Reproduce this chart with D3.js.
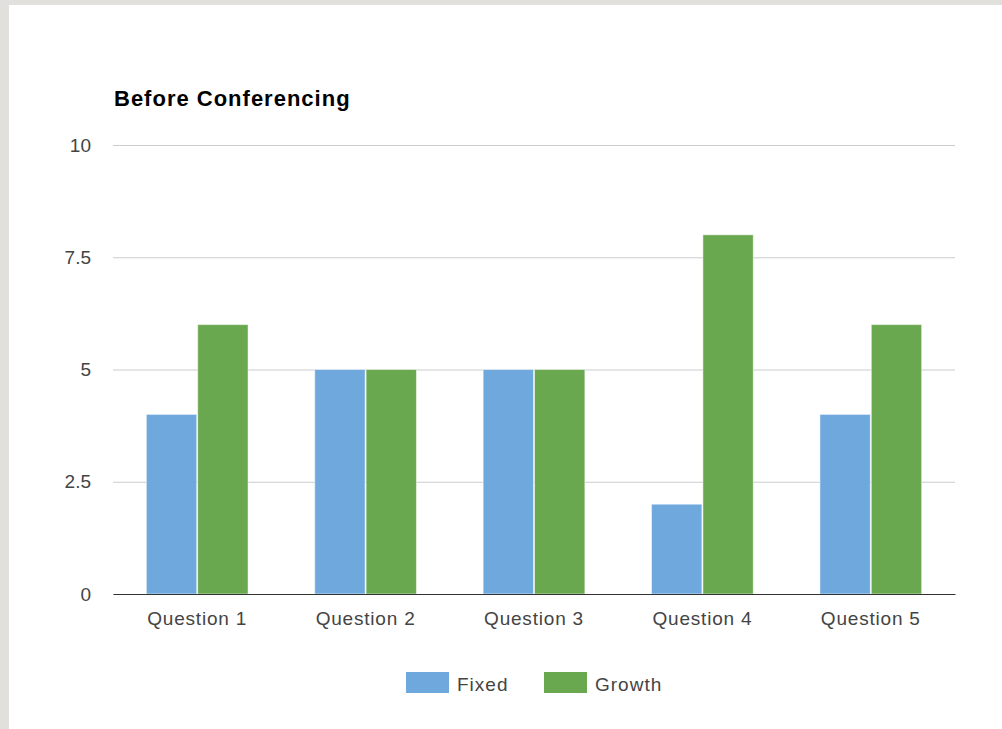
<!DOCTYPE html>
<html>
<head>
<meta charset="utf-8">
<script src="https://cdn.jsdelivr.net/npm/d3@7"></script>
<style>
  html, body { margin: 0; padding: 0; background: #e1e0dc; }
  svg { display: block; }
</style>
</head>
<body>
<script>
// Survey responses before conferencing
const categories = ["Question 1", "Question 2", "Question 3", "Question 4", "Question 5"];
const seriesNames = ["Fixed", "Growth"];
const fixedValues = [4, 5, 5, 2, 4];
const growthValues = [6, 5, 5, 8, 6];
const yTicks = [0, 2.5, 5, 7.5, 10];
const yTickLabels = ["0", "2.5", "5", "7.5", "10"];
const colors = ["#6fa8dc", "#6aa84f"];

const W = 1002, H = 729;
const svg = d3.select("body").append("svg").attr("width", W).attr("height", H);

// white card over the grey page
svg.append("rect").attr("x", 9).attr("y", 5).attr("width", W - 9).attr("height", H - 5).attr("fill", "#ffffff");

const plotLeft = 113, plotRight = 955, plotTop = 145, plotBottom = 594;

const x0 = d3.scaleBand().domain(categories).range([plotLeft, plotRight]).paddingInner(0.39).paddingOuter(0.195);
const x1 = d3.scaleBand().domain(seriesNames).range([0, x0.bandwidth()]);
const y = d3.scaleLinear().domain([0, 10]).range([plotBottom, plotTop]);

const font = "'Liberation Sans', Arial, sans-serif";

// title
svg.append("text").attr("x", 114).attr("y", 106)
  .attr("font-family", font).attr("font-weight", "bold").attr("font-size", 22)
  .attr("letter-spacing", 1)
  .attr("fill", "#000").text("Before Conferencing");

// horizontal gridlines
const yAxis = d3.axisLeft(y).tickValues(yTicks).tickFormat((d, i) => yTickLabels[i])
  .tickSize(-(plotRight - plotLeft)).tickPadding(22);
const gy = svg.append("g").attr("transform", `translate(${plotLeft},0)`).call(yAxis);
gy.select(".domain").remove();
gy.selectAll(".tick line").attr("stroke", "#cccccc").attr("stroke-width", 1);
gy.selectAll(".tick text").attr("font-family", font).attr("font-size", 19).attr("fill", "#444");

// bars
const data = categories.map((c, i) => ({ cat: c, vals: [fixedValues[i], growthValues[i]] }));
const groups = svg.append("g").selectAll("g").data(data).join("g")
  .attr("transform", d => `translate(${x0(d.cat)},0)`);
groups.selectAll("rect").data(d => d.vals.map((v, j) => ({ v, s: seriesNames[j], j })))
  .join("rect")
  .attr("x", d => x1(d.s) + 0.5)
  .attr("width", x1.bandwidth() - 1)
  .attr("y", d => y(d.v))
  .attr("height", d => y(0) - y(d.v))
  .attr("fill", d => colors[d.j])
  .attr("stroke", "#ffffff").attr("stroke-opacity", 0.5).attr("stroke-width", 1);

// x axis baseline and labels
const xAxis = d3.axisBottom(x0).tickSize(0).tickPadding(18);
const gx = svg.append("g").attr("transform", `translate(0,${plotBottom})`).call(xAxis);
gx.select(".domain").attr("stroke", "#333").attr("stroke-width", 1.2);
gx.selectAll(".tick text").attr("font-family", font).attr("font-size", 19)
  .attr("letter-spacing", 0.8).attr("fill", "#444");

// legend
const legendX = [406, 544];
const lg = svg.append("g").selectAll("g").data(seriesNames).join("g")
  .attr("transform", (d, i) => `translate(${legendX[i]},672)`);
lg.append("rect").attr("width", 43).attr("height", 21).attr("fill", (d, i) => colors[i]);
lg.append("text").attr("x", 51).attr("y", 18.5)
  .attr("font-family", font).attr("font-size", 19).attr("letter-spacing", 1)
  .attr("fill", "#444").text(d => d);
</script>
</body>
</html>
